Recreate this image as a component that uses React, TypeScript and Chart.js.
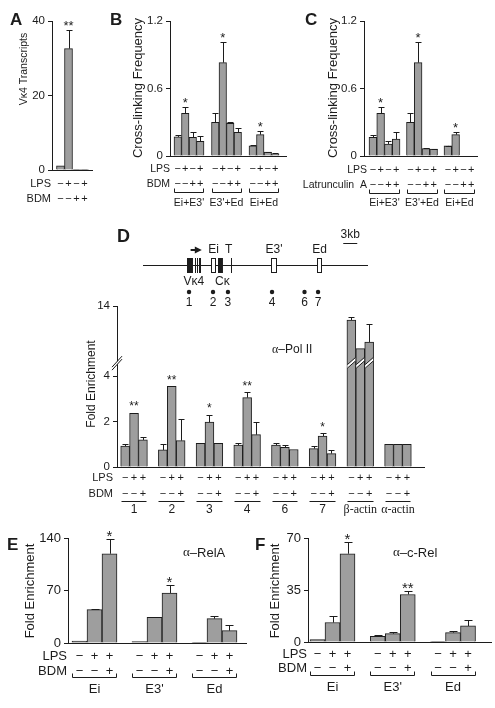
import React, { useEffect, useRef } from "react";
import { Chart, registerables } from "chart.js";

Chart.register(...registerables);

/* ------------------------------------------------------------------ */
/* DATA                                                                */
/* ------------------------------------------------------------------ */

// Panel A – Vκ4 transcripts (one group, four LPS/BDM conditions)
const A_GROUPS = [""];
const A_VALUES = [[1.1, 32.6, 0.2, 0.2]];
const A_ERRORS = [[0, 5.1, 0, 0]];
const A_STARS = [["", "**", "", ""]];
const A_TICKS = [0, 20, 40];
const A_LPS = ["−", "+", "−", "+"];
const A_BDM = ["−", "−", "+", "+"];

// Panel B – cross-linking frequency, BDM
const BC_GROUPS = ["Ei+E3'", "E3'+Ed", "Ei+Ed"];
const B_EI_E3 = [0.17, 0.38, 0.166, 0.13];
const B_E3_ED = [0.3, 0.83, 0.29, 0.21];
const B_EI_ED = [0.09, 0.19, 0.035, 0.02];
const B_ERR_EI_E3 = [0.02, 0.06, 0.045, 0.05];
const B_ERR_E3_ED = [0.08, 0.18, 0.01, 0.035];
const B_ERR_EI_ED = [0.005, 0.03, 0.005, 0.003];
const BC_STARS = [["", "*", "", ""], ["", "*", "", ""], ["", "*", "", ""]];
const BC_TICKS = [0, 0.6, 1.2];
const BC_LPS = ["−", "+", "−", "+"];
const BC_DRUG = ["−", "−", "+", "+"];

// Panel C – cross-linking frequency, Latrunculin A
const C_EI_E3 = [0.166, 0.38, 0.107, 0.15];
const C_E3_ED = [0.3, 0.83, 0.065, 0.062];
const C_EI_ED = [0.09, 0.19, 0, 0];
const C_ERR_EI_E3 = [0.024, 0.06, 0.023, 0.06];
const C_ERR_E3_ED = [0.08, 0.18, 0.003, 0.003];
const C_ERR_EI_ED = [0.003, 0.02, 0, 0];

// Panel D – α-Pol II ChIP
const D_GROUPS = ["1", "2", "3", "4", "6", "7", "β-actin", "α-actin"];
const D_VALUES = [
  [0.92, 2.36, 1.19],
  [0.75, 3.55, 1.16],
  [1.04, 1.97, 1.04],
  [0.96, 3.05, 1.42],
  [0.96, 0.87, 0.77],
  [0.81, 1.36, 0.59],
  [12.0, 7.9, 8.86],
  [1, 1, 1],
];
const D_ERRORS = [
  [0.08, 0.03, 0.11],
  [0.27, 0, 0.96],
  [0, 0.33, 0],
  [0.08, 0.24, 0.54],
  [0.08, 0.1, 0],
  [0.11, 0.12, 0.15],
  [0.47, 0, 2.57],
  [0, 0, 0],
];
const D_STARS = [
  ["", "**", ""],
  ["", "**", ""],
  ["", "*", ""],
  ["", "**", ""],
  ["", "", ""],
  ["", "*", ""],
  ["", "", ""],
  ["", "", ""],
];
const D_TICKS = [0, 2, 4, 14];
const D_LPS = ["−", "+", "+"];
const D_BDM = ["−", "−", "+"];

// Locus diagram (positions in kb along the locus)
const LOCUS_KB = 48.2;
const PRIMER_LABELS = ["1", "2", "3", "4", "6", "7"];
const PRIMER_KB = [9.86, 15.0, 18.2, 27.64, 34.6, 37.5];
const FILLED_EXONS_KB = [
  [9.43, 10.71],
  [16.14, 17.2],
];
const J_SEGMENTS_KB = [11.14, 11.55, 11.95, 12.3];
const ENHANCER_NAMES = ["Ei", "E3'", "Ed"];
const ENHANCER_KB = [
  [14.57, 15.5],
  [27.36, 28.36],
  [37.2, 38.07],
];
const T_KB = 18.8;
const GENE_LABELS = ["Vκ4", "Cκ"];
const GENE_LABEL_KB = [10.9, 17.0];
const ARROW_KB = [10.2, 12.6];
const SCALE_BAR_KB = [42.9, 3];

// Panels E / F – RelA and c-Rel ChIP
const EF_GROUPS = ["Ei", "E3'", "Ed"];
const E_EI = [2.5, 44.4, 119];
const E_E3 = [2, 34.2, 66.7];
const E_ED = [1, 32.4, 16.4];
const E_ERRORS = [[0, 1.6, 19.7], [0, 0.5, 11.1], [0, 3.2, 7.2]];
const E_STARS = [["", "", "*"], ["", "", "*"], ["", "", ""]];
const E_TICKS = [0, 70, 140];
const F_EI = [1.6, 13.1, 59.4];
const F_E3 = [3.8, 5.6, 32];
const F_ED = [0.5, 6.3, 10.8];
const F_ERRORS = [[0, 4.3, 7.9], [0.9, 0.9, 2.3], [0, 1.1, 4.3]];
const F_STARS = [["", "", "*"], ["", "", "**"], ["", "", ""]];
const F_TICKS = [0, 35, 70];
const EF_LPS = ["−", "+", "+"];
const EF_BDM = ["−", "−", "+"];

/* ------------------------------------------------------------------ */
/* STYLE / LAYOUT                                                      */
/* ------------------------------------------------------------------ */

const PAGE_W = 495;
const PAGE_H = 708;
const SANS = '"Liberation Sans", Arial, Helvetica, sans-serif';
const SERIF = '"Liberation Serif", "Times New Roman", serif';
const BAR_FILL = "#9e9e9e";
const INK = "#1c1c1c";
const Y_AXIS_W = 40;
const D_UPPER_RATIO = 0.3077; // compression of the 4–14 segment of the broken axis

const fontStr = (size: number, family = SANS, bold = false) =>
  `${bold ? "bold " : ""}${size}px ${family}`;

function seg(ctx: CanvasRenderingContext2D, x1: number, y1: number, x2: number, y2: number) {
  ctx.beginPath();
  ctx.moveTo(x1, y1);
  ctx.lineTo(x2, y2);
  ctx.stroke();
}

function txt(
  ctx: CanvasRenderingContext2D,
  s: string,
  x: number,
  y: number,
  size: number,
  align: CanvasTextAlign = "center",
  family = SANS,
  bold = false,
  baseline: CanvasTextBaseline = "middle"
) {
  ctx.font = fontStr(size, family, bold);
  ctx.textAlign = align;
  ctx.textBaseline = baseline;
  ctx.fillText(s, x, y);
}

function mixedTxt(ctx: CanvasRenderingContext2D, s: string, x: number, y: number, size: number) {
  let cx = x;
  ctx.textAlign = "left";
  ctx.textBaseline = "middle";
  for (const ch of s) {
    ctx.font = fontStr(size, /[αβ]/.test(ch) ? SERIF : SANS);
    ctx.fillText(ch, cx, y);
    cx += ctx.measureText(ch).width;
  }
}

type Layout = {
  left: number; right: number; top: number; bottom: number;
  xMin: number; xMax: number; barW: number; yMax: number;
  tickSize: number; capW: number;
  letter: string; letterX: number; letterY: number; letterSize: number;
  title: string; titleX: number; titleY: number; titleSize: number;
  note?: string; noteX?: number; noteY?: number; noteSize?: number;
  rowY: number[]; rowRight: number; rowSize: number; signSize: number;
  bracket?: "bracket" | "line"; bracketY?: number;
  labelY?: number; labelSize?: number;
  starSize: number; starGap: number;
  breakDisplay?: number;
};

type PanelDef = {
  groups: string[];
  values: number[][];
  errors: number[][];
  stars: string[][];
  ticks: number[];
  rows: { label: string; signs: string[] }[];
  layout: Layout;
  tf?: (v: number) => number;
};

const PANEL_A: PanelDef = {
  groups: A_GROUPS, values: A_VALUES, errors: A_ERRORS, stars: A_STARS, ticks: A_TICKS,
  rows: [{ label: "LPS", signs: A_LPS }, { label: "BDM", signs: A_BDM }],
  layout: {
    left: 52, right: 93, top: 21, bottom: 170, xMin: -0.5, xMax: 0.5, barW: 8, yMax: 40,
    tickSize: 11.5, capW: 3,
    letter: "A", letterX: 10, letterY: 25, letterSize: 17,
    title: "Vκ4 Transcripts", titleX: 24, titleY: 69, titleSize: 10.5,
    rowY: [184, 199], rowRight: 51, rowSize: 11, signSize: 11,
    starSize: 13, starGap: 0,
  },
};

const PANEL_B: PanelDef = {
  groups: BC_GROUPS, values: [B_EI_E3, B_E3_ED, B_EI_ED],
  errors: [B_ERR_EI_E3, B_ERR_E3_ED, B_ERR_EI_ED], stars: BC_STARS, ticks: BC_TICKS,
  rows: [{ label: "LPS", signs: BC_LPS }, { label: "BDM", signs: BC_DRUG }],
  layout: {
    left: 170, right: 287, top: 21, bottom: 156, xMin: -0.507, xMax: 2.613, barW: 7.5, yMax: 1.2,
    tickSize: 11.5, capW: 3,
    letter: "B", letterX: 110, letterY: 25, letterSize: 17,
    title: "Cross-linking Frequency", titleX: 138, titleY: 88, titleSize: 13,
    rowY: [169, 184], rowRight: 170, rowSize: 10.5, signSize: 11,
    bracket: "bracket", bracketY: 192, labelY: 203, labelSize: 10.5,
    starSize: 13, starGap: 0,
  },
};

const PANEL_C: PanelDef = {
  groups: BC_GROUPS, values: [C_EI_E3, C_E3_ED, C_EI_ED],
  errors: [C_ERR_EI_E3, C_ERR_E3_ED, C_ERR_EI_ED], stars: BC_STARS, ticks: BC_TICKS,
  rows: [{ label: "LPS", signs: BC_LPS }, { label: "Latrunculin  A", signs: BC_DRUG }],
  layout: {
    left: 364, right: 478, top: 21, bottom: 156, xMin: -0.547, xMax: 2.493, barW: 7.75, yMax: 1.2,
    tickSize: 11.5, capW: 3,
    letter: "C", letterX: 305, letterY: 25, letterSize: 17,
    title: "Cross-linking Frequency", titleX: 333, titleY: 88, titleSize: 13,
    rowY: [170, 185], rowRight: 367, rowSize: 10.5, signSize: 11,
    bracket: "bracket", bracketY: 193, labelY: 203, labelSize: 10.5,
    starSize: 13, starGap: 0,
  },
};

const dBreak = (v: number) => (v <= 4 ? v : 4 + (v - 4) * D_UPPER_RATIO);

const PANEL_D: PanelDef = {
  groups: D_GROUPS, values: D_VALUES, errors: D_ERRORS, stars: D_STARS, ticks: D_TICKS,
  rows: [{ label: "LPS", signs: D_LPS }, { label: "BDM", signs: D_BDM }],
  tf: dBreak,
  layout: {
    left: 117, right: 425, top: 306, bottom: 467, xMin: -0.452, xMax: 7.717, barW: 8.9, yMax: 14,
    tickSize: 11.5, capW: 3,
    letter: "D", letterX: 117, letterY: 242, letterSize: 18,
    title: "Fold Enrichment", titleX: 92, titleY: 384, titleSize: 12,
    note: "α–Pol II", noteX: 272, noteY: 350, noteSize: 12,
    rowY: [478, 494], rowRight: 113, rowSize: 11, signSize: 11,
    bracket: "line", bracketY: 501, labelY: 510, labelSize: 12,
    starSize: 12, starGap: 2.5, breakDisplay: 4.5,
  },
};

const PANEL_E: PanelDef = {
  groups: EF_GROUPS, values: [E_EI, E_E3, E_ED], errors: E_ERRORS, stars: E_STARS, ticks: E_TICKS,
  rows: [{ label: "LPS", signs: EF_LPS }, { label: "BDM", signs: EF_BDM }],
  layout: {
    left: 68, right: 247, top: 538, bottom: 643, xMin: -0.4417, xMax: 2.5417, barW: 15, yMax: 140,
    tickSize: 13, capW: 4,
    letter: "E", letterX: 7, letterY: 550, letterSize: 17,
    title: "Fold Enrichment", titleX: 30, titleY: 591, titleSize: 13,
    note: "α–RelA", noteX: 183, noteY: 553, noteSize: 13,
    rowY: [656, 671], rowRight: 67, rowSize: 13, signSize: 13,
    bracket: "bracket", bracketY: 677, labelY: 689, labelSize: 13,
    starSize: 15, starGap: -2,
  },
};

const PANEL_F: PanelDef = {
  groups: EF_GROUPS, values: [F_EI, F_E3, F_ED], errors: F_ERRORS, stars: F_STARS, ticks: F_TICKS,
  rows: [{ label: "LPS", signs: EF_LPS }, { label: "BDM", signs: EF_BDM }],
  layout: {
    left: 308, right: 492, top: 538, bottom: 642, xMin: -0.4066, xMax: 2.647, barW: 15, yMax: 70,
    tickSize: 13, capW: 4,
    letter: "F", letterX: 255, letterY: 550, letterSize: 17,
    title: "Fold Enrichment", titleX: 275, titleY: 591, titleSize: 13,
    note: "α–c-Rel", noteX: 393, noteY: 553, noteSize: 13,
    rowY: [654, 668], rowRight: 307, rowSize: 13, signSize: 13,
    bracket: "bracket", bracketY: 675, labelY: 687, labelSize: 13,
    starSize: 15, starGap: -2,
  },
};

const DIAG = {
  left: 143, right: 368, dotsY: 292,
  lineY: 265.5, featTop: 258, featBot: 273,
  arrowY: 250, aboveY: 250, belowY: 282, numY: 303,
  scaleBarY: 243.5, scaleTextY: 235, textSize: 12,
};

/* ------------------------------------------------------------------ */
/* PLUGINS                                                             */
/* ------------------------------------------------------------------ */

function slantBand(ctx: CanvasRenderingContext2D, xl: number, xr: number, yb: number, rise: number, gap: number) {
  ctx.save();
  ctx.fillStyle = "#fff";
  ctx.beginPath();
  ctx.moveTo(xl, yb + rise / 2);
  ctx.lineTo(xr, yb - rise / 2);
  ctx.lineTo(xr, yb - rise / 2 - gap);
  ctx.lineTo(xl, yb + rise / 2 - gap);
  ctx.closePath();
  ctx.fill();
  ctx.strokeStyle = INK;
  ctx.lineWidth = 1;
  seg(ctx, xl, yb + rise / 2, xr, yb - rise / 2);
  seg(ctx, xl, yb + rise / 2 - gap, xr, yb - rise / 2 - gap);
  ctx.restore();
}

function panelPlugin(p: PanelDef) {
  const L = p.layout;
  const tf = p.tf || ((v: number) => v);
  const K = p.values[0].length;
  return {
    id: "panelDecor",
    afterDraw(chart: any) {
      const ctx: CanvasRenderingContext2D = chart.ctx;
      const area = chart.chartArea;
      const xs = chart.scales.x;
      const ys = chart.scales.y;
      const metas = Array.from({ length: K }, (_, k) => chart.getDatasetMeta(k));
      ctx.save();
      ctx.strokeStyle = INK;
      ctx.fillStyle = INK;
      ctx.lineWidth = 1;

      // x axis line
      const yb0 = Math.round(area.bottom) + 0.5;
      seg(ctx, area.left - 0.5, yb0, area.right, yb0);

      // error bars and significance stars
      p.values.forEach((grp, i) =>
        grp.forEach((v, k) => {
          const el = metas[k].data[i];
          if (!el) return;
          const e = p.errors[i][k];
          const x = Math.round(el.x) + 0.5;
          const yTop = ys.getPixelForValue(tf(v + e));
          if (e > 0) {
            const yc = Math.round(yTop) + 0.5;
            seg(ctx, x, el.y, x, yc);
            seg(ctx, x - L.capW, yc, x + L.capW, yc);
          }
          const s = p.stars[i][k];
          if (s) {
            ctx.fillStyle = INK;
            txt(ctx, s, el.x, yTop - L.starGap, L.starSize, "center", SANS, false, "alphabetic");
          }
        })
      );

      // broken axis
      if (L.breakDisplay !== undefined) {
        const yb = ys.getPixelForValue(L.breakDisplay);
        p.values.forEach((grp, i) =>
          grp.forEach((v, k) => {
            if (tf(v) > L.breakDisplay! + 0.4) {
              const el = metas[k].data[i];
              slantBand(ctx, el.x - el.width / 2 + 0.5, el.x + el.width / 2 - 0.5, yb, 7, 3.5);
            }
          })
        );
        slantBand(ctx, area.left - 5, area.left + 5, yb, 11, 3);
      }

      ctx.fillStyle = INK;
      // panel letter, axis title, note
      txt(ctx, L.letter, L.letterX, L.letterY, L.letterSize, "left", SANS, true, "alphabetic");
      ctx.save();
      ctx.translate(L.titleX, L.titleY);
      ctx.rotate(-Math.PI / 2);
      txt(ctx, L.title, 0, 0, L.titleSize);
      ctx.restore();
      if (L.note) mixedTxt(ctx, L.note, L.noteX!, L.noteY!, L.noteSize!);

      // treatment rows
      L.rowY.forEach((ry, r) => {
        txt(ctx, p.rows[r].label, L.rowRight, ry, L.rowSize, "right");
        p.values.forEach((grp, i) =>
          grp.forEach((_, k) => {
            const el = metas[k].data[i];
            txt(ctx, p.rows[r].signs[k], el.x, ry, L.signSize);
          })
        );
      });

      // brackets / underlines
      if (L.bracket) {
        p.groups.forEach((_, i) => {
          const first = metas[0].data[i];
          const last = metas[K - 1].data[i];
          const xl = Math.round(first.x - first.width / 2) + 0.5;
          const xr = Math.round(last.x + last.width / 2) - 0.5;
          const by = L.bracketY! + 0.5;
          ctx.beginPath();
          if (L.bracket === "bracket") {
            ctx.moveTo(xl, by - 4);
            ctx.lineTo(xl, by);
            ctx.lineTo(xr, by);
            ctx.lineTo(xr, by - 4);
          } else {
            ctx.moveTo(xl, by);
            ctx.lineTo(xr, by);
          }
          ctx.stroke();
        });
      }
      if (L.labelY) {
        p.groups.forEach((g, i) => {
          const fam = /[αβ]/.test(g) ? SERIF : SANS;
          txt(ctx, g, xs.getPixelForValue(i), L.labelY!, L.labelSize!, "center", fam);
        });
      }
      ctx.restore();
    },
  };
}

const diagramPlugin = {
  id: "locusDiagram",
  afterDraw(chart: any) {
    const ctx: CanvasRenderingContext2D = chart.ctx;
    const xs = chart.scales.x;
    const X = (kb: number) => xs.getPixelForValue(kb);
    ctx.save();
    ctx.strokeStyle = INK;
    ctx.fillStyle = INK;
    ctx.lineWidth = 1;
    const h = DIAG.featBot - DIAG.featTop;

    seg(ctx, X(0), DIAG.lineY, X(LOCUS_KB), DIAG.lineY);
    FILLED_EXONS_KB.forEach(([a, b]) => ctx.fillRect(Math.round(X(a)), DIAG.featTop, Math.max(2, X(b) - X(a)), h));
    J_SEGMENTS_KB.forEach((kb) => {
      const x = Math.round(X(kb)) + 0.5;
      seg(ctx, x, DIAG.featTop, x, DIAG.featBot);
    });
    ENHANCER_KB.forEach(([a, b], i) => {
      const xl = Math.round(X(a)) + 0.5;
      const w = Math.max(3, Math.round(X(b) - X(a)));
      ctx.fillStyle = "#fff";
      ctx.fillRect(xl, DIAG.featTop + 0.5, w, h - 1);
      ctx.strokeRect(xl, DIAG.featTop + 0.5, w, h - 1);
      ctx.fillStyle = INK;
      txt(ctx, ENHANCER_NAMES[i], xl + w / 2, DIAG.aboveY, DIAG.textSize);
    });
    const tx = Math.round(X(T_KB)) + 0.5;
    seg(ctx, tx, DIAG.featTop, tx, DIAG.featBot);
    txt(ctx, "T", X(T_KB) - 2, DIAG.aboveY, DIAG.textSize);

    // transcription arrow
    const ax0 = X(ARROW_KB[0]);
    const ax1 = X(ARROW_KB[1]);
    ctx.lineWidth = 2;
    seg(ctx, ax0, DIAG.arrowY, ax1 - 5, DIAG.arrowY);
    ctx.lineWidth = 1;
    ctx.beginPath();
    ctx.moveTo(ax1 - 7, DIAG.arrowY - 3.5);
    ctx.lineTo(ax1, DIAG.arrowY);
    ctx.lineTo(ax1 - 7, DIAG.arrowY + 3.5);
    ctx.closePath();
    ctx.fill();

    GENE_LABELS.forEach((g, i) => txt(ctx, g, X(GENE_LABEL_KB[i]), DIAG.belowY, DIAG.textSize));
    PRIMER_LABELS.forEach((n, i) => txt(ctx, n, X(PRIMER_KB[i]), DIAG.numY, DIAG.textSize));

    // scale bar
    const s0 = X(SCALE_BAR_KB[0]);
    const s1 = X(SCALE_BAR_KB[0] + SCALE_BAR_KB[1]);
    seg(ctx, s0, DIAG.scaleBarY, s1, DIAG.scaleBarY);
    txt(ctx, `${SCALE_BAR_KB[1]}kb`, (s0 + s1) / 2, DIAG.scaleTextY, DIAG.textSize);
    ctx.restore();
  },
};

/* ------------------------------------------------------------------ */
/* CHART BUILDERS                                                      */
/* ------------------------------------------------------------------ */

function buildPanel(canvas: HTMLCanvasElement, p: PanelDef) {
  const L = p.layout;
  const tf = p.tf || ((v: number) => v);
  const K = p.values[0].length;
  const datasets = Array.from({ length: K }, (_, k) => ({
    data: p.values.map((g, i) => ({ x: i, y: tf(g[k]) })),
    backgroundColor: BAR_FILL,
    borderColor: INK,
    borderWidth: 1,
    borderSkipped: "start",
    barThickness: L.barW,
  }));
  return new Chart(canvas, {
    type: "bar",
    data: { datasets } as any,
    options: {
      animation: false,
      responsive: false,
      devicePixelRatio: 1,
      events: [],
      layout: {
        padding: { left: L.left - Y_AXIS_W, right: PAGE_W - L.right, top: L.top, bottom: PAGE_H - L.bottom },
      },
      plugins: { legend: { display: false }, tooltip: { enabled: false }, title: { display: false } },
      scales: {
        x: { type: "linear", min: L.xMin, max: L.xMax, display: false, offset: false },
        y: {
          type: "linear",
          min: 0,
          max: tf(L.yMax),
          afterFit: (s: any) => {
            s.width = Y_AXIS_W;
          },
          afterBuildTicks: (s: any) => {
            s.ticks = p.ticks.map((v) => ({ value: tf(v) }));
          },
          ticks: {
            font: { family: SANS, size: L.tickSize },
            color: INK,
            padding: 3,
            callback: (val: any) => {
              const t = p.ticks.find((v) => Math.abs(tf(v) - Number(val)) < 1e-6);
              return t === undefined ? "" : String(t);
            },
          },
          grid: { drawOnChartArea: false, drawTicks: true, tickLength: 4, color: INK, lineWidth: 1 },
          border: { display: true, color: INK, width: 1 },
        },
      },
    } as any,
    plugins: [panelPlugin(p)],
  });
}

function buildDiagram(canvas: HTMLCanvasElement) {
  return new Chart(canvas, {
    type: "scatter",
    data: {
      datasets: [
        {
          data: PRIMER_KB.map((kb) => ({ x: kb, y: 0 })),
          pointRadius: 2.2,
          pointBackgroundColor: INK,
          pointBorderWidth: 0,
          showLine: false,
        },
      ],
    },
    options: {
      animation: false,
      responsive: false,
      devicePixelRatio: 1,
      events: [],
      layout: {
        padding: { left: DIAG.left, right: PAGE_W - DIAG.right, top: DIAG.dotsY - 6, bottom: PAGE_H - DIAG.dotsY - 6 },
      },
      plugins: { legend: { display: false }, tooltip: { enabled: false } },
      scales: {
        x: { type: "linear", min: 0, max: LOCUS_KB, display: false },
        y: { type: "linear", min: -1, max: 1, display: false },
      },
    } as any,
    plugins: [diagramPlugin],
  });
}

/* ------------------------------------------------------------------ */
/* COMPONENTS                                                          */
/* ------------------------------------------------------------------ */

function Layer({ build }: { build: (c: HTMLCanvasElement) => Chart }) {
  const ref = useRef<HTMLCanvasElement>(null);
  useEffect(() => {
    const chart = build(ref.current!);
    return () => chart.destroy();
  }, []);
  return (
    <canvas
      ref={ref}
      width={PAGE_W}
      height={PAGE_H}
      style={{ position: "absolute", left: 0, top: 0, width: PAGE_W, height: PAGE_H }}
    />
  );
}

export default function App() {
  return (
    <div
      style={{
        position: "absolute",
        left: 0,
        top: 0,
        width: PAGE_W,
        height: PAGE_H,
        background: "#fff",
        overflow: "hidden",
      }}
    >
      <Layer build={(c) => buildPanel(c, PANEL_A)} />
      <Layer build={(c) => buildPanel(c, PANEL_B)} />
      <Layer build={(c) => buildPanel(c, PANEL_C)} />
      <Layer build={buildDiagram} />
      <Layer build={(c) => buildPanel(c, PANEL_D)} />
      <Layer build={(c) => buildPanel(c, PANEL_E)} />
      <Layer build={(c) => buildPanel(c, PANEL_F)} />
    </div>
  );
}
